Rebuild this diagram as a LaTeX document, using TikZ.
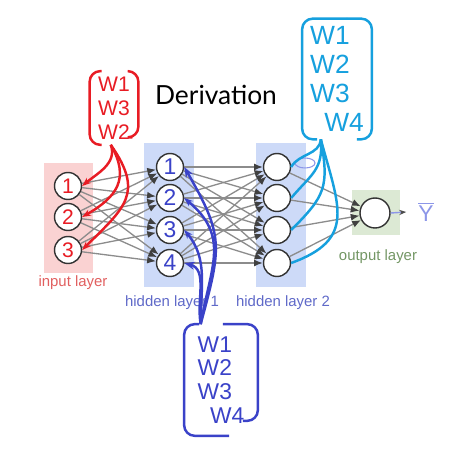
\documentclass[tikz,border=0pt]{standalone}
\usepackage{fontspec}
\setmainfont{Liberation Sans}
\newfontfamily\titlefont{Lato}
\usetikzlibrary{arrows.meta,graphs}
\definecolor{nn.inbox}{RGB}{250,210,210}
\definecolor{nn.hidbox}{RGB}{205,218,248}
\definecolor{nn.outbox}{RGB}{220,233,212}
\definecolor{nn.inlab}{RGB}{225,95,95}
\definecolor{nn.hidlab}{RGB}{95,105,200}
\definecolor{nn.outlab}{RGB}{115,150,100}
\definecolor{hw.red}{RGB}{232,28,36}
\definecolor{hw.blue}{RGB}{58,66,200}
\definecolor{hw.cyan}{RGB}{22,160,222}
\definecolor{hw.pale}{RGB}{140,150,232}

\begin{document}
\begin{tikzpicture}[x=0.02cm, y=-0.02cm]
  \tikzset{circ/.append style={circle, draw=black!80, line width=0.8pt,
      fill=white, inner sep = 0, minimum size = 0.54cm},
    layerbox/.style={inner sep=0, outer sep=0},
    layerlab/.style={font=\fontsize{8.5}{10}\selectfont},
    wlist/.style={inner sep=0, align=left},
    brk/.style={line width=1.4pt, rounded corners=6pt},
    stroke/.style={line width=1.4pt}}
  \useasboundingbox (0,0) rectangle (454,452);

  \node[layerbox, fill=nn.inbox, minimum width=0.98cm, minimum height=2.2cm] (inbox) at (68.5,218) {};
  \node[layerbox, fill=nn.hidbox, minimum width=1cm, minimum height=2.88cm] (h1box) at (169,215) {};
  \node[layerbox, fill=nn.hidbox, minimum width=1cm, minimum height=2.88cm] (h2box) at (281,215) {};
  \node[layerbox, fill=nn.outbox, minimum width=0.96cm, minimum height=0.9cm] (outbox) at (376,212.5) {};

  \node[font=\titlefont\fontsize{15}{18}\selectfont] (title) at (216,95) {Derivation};
  \node[layerlab, text=nn.inlab] (inlab) at (73,283) {input layer};
  \node[layerlab, text=nn.hidlab] (h1lab) at (172,303) {hidden layer 1};
  \node[layerlab, text=nn.hidlab] (h2lab) at (283,303) {hidden layer 2};
  \node[layerlab, text=nn.outlab] (outlab) at (378,257) {output layer};

  \node[circ, text=hw.red, font=\fontsize{12}{12}\selectfont] (i1) at (68,186) {1};
  \node[circ, text=hw.red, font=\fontsize{12}{12}\selectfont] (i2) at (68,217) {2};
  \node[circ, text=hw.red, font=\fontsize{12}{12}\selectfont] (i3) at (68,250) {3};

  \node[circ, text=hw.blue, font=\fontsize{13}{13}\selectfont] (a1) at (170,167) {1};
  \node[circ, text=hw.blue, font=\fontsize{13}{13}\selectfont] (a2) at (170,198) {2};
  \node[circ, text=hw.blue, font=\fontsize{13}{13}\selectfont] (a3) at (170,230) {3};
  \node[circ, text=hw.blue, font=\fontsize{13}{13}\selectfont] (a4) at (170,263) {4};

  \node[circ] (b1) at (277,167) {};
  \node[circ] (b2) at (277,198) {};
  \node[circ] (b3) at (277,230) {};
  \node[circ] (b4) at (277,263) {};

  \node[circ, minimum size = 0.6cm] (o) at (375,213) {};

  \graph[use existing nodes, edges={draw=black!45, line width=0.75pt,
      >={Latex[length=5pt, width=4pt, color=black!75]}}] {
    {i1, i2, i3} ->[complete bipartite] {a1, a2, a3, a4};
    {a1, a2, a3, a4} ->[complete bipartite] {b1, b2, b3, b4};
    {b1, b2, b3, b4} -> o;
  };

  \node[text=hw.pale, font=\fontsize{13}{13}\selectfont] (ybar) at (426,212) {$\overline{\mathrm{Y}}$};
  \draw[hw.pale, line width=0.8pt, -{Stealth[length=4pt, color=black!70]}] (o.east) -- ([xshift=-0.12cm]ybar.west);
  \draw[hw.pale, line width=0.6pt] (305,163) ellipse (10 and 5);

  \node[wlist, text=hw.red, minimum width=0.96cm, minimum height=1.46cm,
    font=\fontsize{12}{13.7}\selectfont] (wr) at (114,108) {W1\\W3\\W2};
  \node[wlist, text=hw.cyan, minimum width=1.38cm, minimum height=2.4cm,
    font=\fontsize{15}{16.5}\selectfont] (wc) at (337,79) {W1\\W2\\W3\\\hspace{8pt}W4};
  \node[wlist, text=hw.blue, minimum width=1.46cm, minimum height=2.22cm,
    font=\fontsize{13}{13.5}\selectfont] (wb) at (221,380) {W1\\W2\\W3\\\hspace{7pt}W4};

  \draw[brk, hw.red] ([xshift=0.24cm]wr.north west) -- (wr.north west) -- (wr.south west) -- ([xshift=0.24cm]wr.south west);
  \draw[brk, hw.red] ([xshift=-0.2cm]wr.north east) -- (wr.north east) -- ([yshift=0.15cm]wr.south east) -- ([xshift=-0.12cm, yshift=0.15cm]wr.south east);
  \draw[brk, hw.cyan] ([xshift=0.9cm]wc.north west) -- (wc.north west) -- (wc.south west) -- ([xshift=0.3cm]wc.south west);
  \draw[brk, hw.cyan] ([xshift=-0.5cm]wc.north east) -- (wc.north east) -- (wc.south east) -- ([xshift=-0.3cm]wc.south east);
  \draw[brk, hw.blue] ([xshift=0.3cm]wb.north west) -- (wb.north west) -- (wb.south west) -- ([xshift=0.9cm]wb.south west);
  \draw[brk, hw.blue] ([xshift=-0.7cm]wb.north east) -- (wb.north east) -- ([yshift=0.3cm]wb.south east) -- ([xshift=-0.3cm, yshift=0.3cm]wb.south east);

  \draw[stroke, hw.red, -{Stealth[length=5pt]}] (wr.-95) to[out=-70, in=40] (i1.east);
  \draw[stroke, hw.red, -{Stealth[length=5pt]}] (wr.-95) to[out=-60, in=30, looseness=1.3] (i2.east);
  \draw[stroke, hw.red, -{Stealth[length=5pt]}] (wr.-95) to[out=-55, in=45, looseness=1.4] (i3.east);

  \draw[stroke, hw.blue, -{Stealth[length=6pt]}] (wb.110) to[out=75, in=-60, looseness=1.3] (a1.east);
  \draw[stroke, hw.blue, -{Stealth[length=5pt]}] (wb.110) to[out=80, in=-40, looseness=1.2] (a2.east);
  \draw[stroke, hw.blue, -{Stealth[length=5pt]}] (wb.110) to[out=90, in=-50] (a3.east);
  \draw[stroke, hw.blue, -{Stealth[length=6pt]}] (wb.110) to[out=100, in=-15] (a4.east);

  \draw[stroke, hw.cyan] (wc.-105) to[out=-95, in=60] (b1.east);
  \draw[stroke, hw.cyan] (wc.-105) to[out=-85, in=50, looseness=1.2] (b2.east);
  \draw[stroke, hw.cyan] (wc.-105) to[out=-80, in=45, looseness=1.3] (b3.east);
  \draw[stroke, hw.cyan] (wc.-105) to[out=-75, in=20, looseness=1.4] (b4.east);
\end{tikzpicture}
\end{document}
